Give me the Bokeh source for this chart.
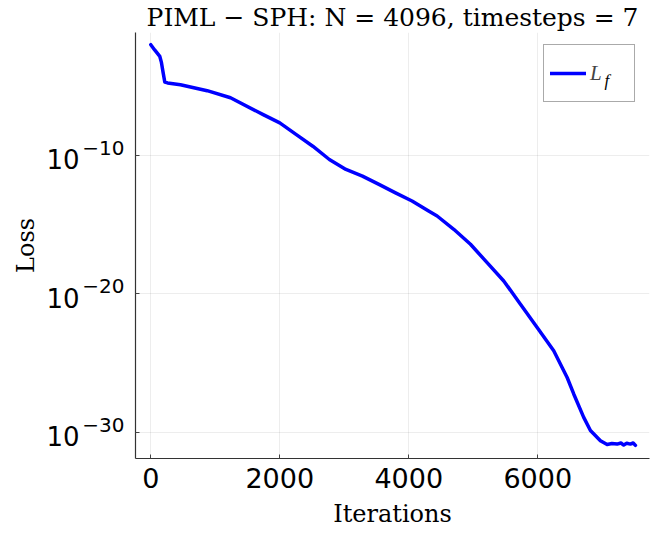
from bokeh.plotting import figure
from bokeh.models import (Range1d, FixedTicker, Legend, LegendItem, Label,
                          LogAxis, LogScale)
from bokeh.embed import file_html
from bokeh.resources import INLINE

# ---- data ----
iterations = [0, 60, 140, 165, 190, 217, 260, 460, 874, 1236, 1743, 2000, 2257,
              2512, 2769, 3026, 3282, 3538, 3795, 4051, 4308, 4440, 4698, 4957,
              5215, 5473, 5732, 5991, 6248, 6456, 6558, 6713, 6817, 6972, 7076,
              7150, 7231, 7290, 7333, 7380, 7437, 7480, 7515]
loss_f = [9.55e-3, 3.98e-3, 1.35e-3, 5.01e-4, 1.0e-4, 1.91e-5, 1.66e-5, 1.23e-5,
          4.57e-6, 1.41e-6, 8.51e-8, 2.14e-8, 3.09e-9, 4.47e-10, 4.90e-11,
          9.33e-12, 3.09e-12, 7.76e-13, 1.91e-13, 4.90e-14, 9.33e-15, 4.07e-15,
          4.47e-16, 3.72e-17, 1.74e-18, 8.32e-20, 1.74e-21, 3.63e-23, 7.59e-25,
          8.91e-27, 5.75e-28, 1.17e-29, 1.32e-30, 2.45e-31, 1.29e-31, 1.51e-31,
          1.38e-31, 1.66e-31, 1.17e-31, 1.58e-31, 1.38e-31, 1.66e-31, 1.12e-31]

x_ticks = [0, 2000, 4000, 6000]
y_ticks = [1e-10, 1e-20, 1e-30]
y_tick_bases = ["10", "10", "10"]
y_tick_exponents = ["−10", "−20", "−30"]

title_text = "PIML − SPH: N = 4096, timesteps = 7"
serif = "DejaVu Serif"
sans = "DejaVu Sans"

Y_LO, Y_HI = -31.9, -1.14          # log10 limits of the y axis
PX_PER_DECADE = 427 / (Y_HI - Y_LO)
exp_shift = 7.5 / PX_PER_DECADE    # exponent raised above tick
base_shift = -4.0 / PX_PER_DECADE  # base "10" slightly below tick

p = figure(width=667, height=542, y_axis_type="log",
           x_range=Range1d(-237, 7733), y_range=Range1d(10 ** Y_LO, 10 ** Y_HI),
           output_backend="svg", toolbar_location=None,
           min_border_left=135, min_border_right=18, min_border_top=31,
           min_border_bottom=84)
p.extra_y_ranges = {
    "exp": Range1d(10 ** (Y_LO - exp_shift), 10 ** (Y_HI - exp_shift)),
    "base": Range1d(10 ** (Y_LO - base_shift), 10 ** (Y_HI - base_shift)),
}
p.extra_y_scales = {"exp": LogScale(), "base": LogScale()}

p.title.text = title_text
p.title.text_font = serif
p.title.text_font_size = "25px"
p.title.text_font_style = "normal"
p.title.text_color = "black"
p.title.align = "center"
p.title.offset = 0
p.title.standoff = 1

p.outline_line_color = None
p.background_fill_color = "white"
p.border_fill_color = "white"

r = p.line(iterations, loss_f, line_color="#0000ff", line_width=3.5,
           line_join="round", line_cap="round")

# main axes
for ax in (p.xaxis[0], p.yaxis[0]):
    ax.axis_line_color = "#333333"
    ax.axis_line_width = 1.2
    ax.major_tick_in = 4
    ax.major_tick_out = 0
    ax.major_tick_line_color = "#444444"
    ax.minor_tick_line_color = None
    ax.major_label_text_font = sans
    ax.major_label_text_color = "black"
    ax.major_label_text_font_size = "27px"
    ax.axis_label_text_font = serif
    ax.axis_label_text_font_size = "24px"
    ax.axis_label_text_font_style = "normal"
    ax.axis_label_text_color = "black"

p.xaxis.ticker = FixedTicker(ticks=x_ticks)
p.yaxis.ticker = FixedTicker(ticks=y_ticks)
p.yaxis.major_label_overrides = {t: "" for t in y_ticks}
p.yaxis.major_label_standoff = 0
p.xaxis.axis_label = "Iterations"
p.xaxis.major_label_standoff = 9
p.xaxis.axis_label_standoff = 9

# y tick labels: raised exponent axis + base axis (labels only)
def label_axis(range_name, labels, size, standoff, axis_label=None):
    ax = LogAxis(y_range_name=range_name, ticker=FixedTicker(ticks=y_ticks),
                 major_label_overrides=dict(zip(y_ticks, labels)),
                 axis_line_color=None, major_tick_line_color=None,
                 minor_tick_line_color=None, major_label_text_font=sans,
                 major_label_text_font_size=size, major_label_text_color="black",
                 major_label_standoff=standoff)
    if axis_label:
        ax.axis_label = axis_label
        ax.axis_label_text_font = serif
        ax.axis_label_text_font_size = "24px"
        ax.axis_label_text_font_style = "normal"
        ax.axis_label_text_color = "black"
        ax.axis_label_standoff = 3
    p.add_layout(ax, "left")
    return ax

label_axis("exp", y_tick_exponents, "20px", 5)
label_axis("base", y_tick_bases, "26px", -6, axis_label="Loss")

p.xgrid.ticker = FixedTicker(ticks=x_ticks)
p.ygrid.ticker = FixedTicker(ticks=y_ticks)
p.grid.grid_line_color = "#000000"
p.grid.grid_line_alpha = 0.07
p.grid.grid_line_width = 1

legend = Legend(items=[LegendItem(label="L", renderers=[r])],
                location="top_right", border_line_color="#555555",
                border_line_width=1, background_fill_alpha=0.0,
                label_text_font="Liberation Serif", label_text_font_style="italic",
                label_text_font_size="21px", label_text_baseline="alphabetic",
                glyph_width=36, glyph_height=44, label_height=44,
                padding=6, margin=0, label_standoff=4, spacing=0,
                label_width=38)
legend.location = (408, 356)
p.add_layout(legend)

sub = Label(x=469, y=378, x_units="screen", y_units="screen", text="f",
            text_font="Liberation Serif", text_font_style="italic",
            text_font_size="17px", text_color="black",
            text_baseline="alphabetic", level="overlay")
p.add_layout(sub)

open("out.html", "w").write(file_html(p, INLINE))
